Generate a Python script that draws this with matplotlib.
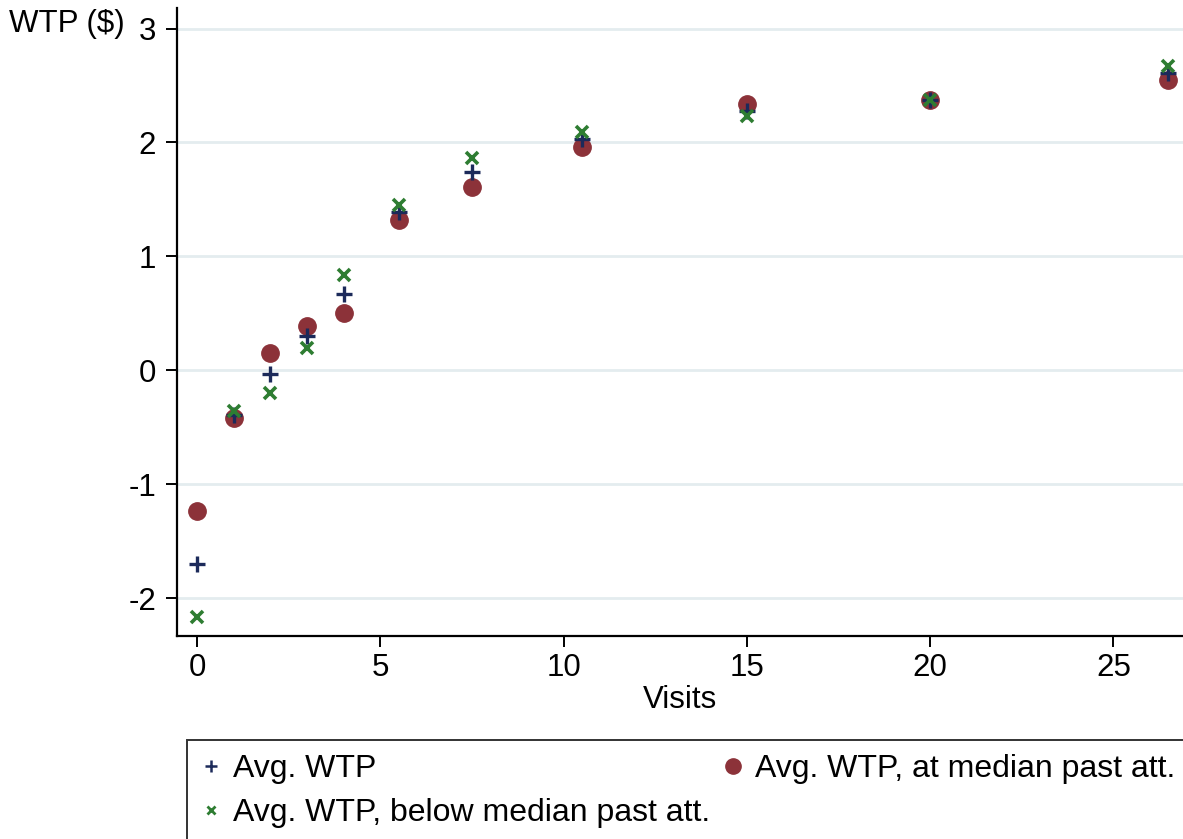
import matplotlib
matplotlib.use("Agg")
import matplotlib.pyplot as plt

plt.rcParams['font.family'] = ['Liberation Sans', 'DejaVu Sans']

# visits bins
visits = [0, 1, 2, 3, 4, 5.5, 7.5, 10.5, 15, 20, 26.5]

# average willingness to pay by group
wtp_all = [-1.70, -0.39, -0.03, 0.30, 0.67, 1.39, 1.74, 2.03, 2.28, 2.37, 2.61]
wtp_median = [-1.23, -0.42, 0.15, 0.39, 0.50, 1.32, 1.61, 1.96, 2.34, 2.37, 2.55]
wtp_below = [-2.16, -0.36, -0.20, 0.20, 0.84, 1.45, 1.86, 2.09, 2.23, 2.37, 2.67]

labels = ['Avg. WTP', 'Avg. WTP, below median past att.', 'Avg. WTP, at median past att.']

navy = '#1c2a5a'
maroon = '#8c3239'
green = '#2e7d32'
fs = 22.5

fig = plt.figure(figsize=(11.83, 8.39), dpi=100)
ax = fig.add_axes([177/1183, 1 - 636/839, 1 - 177/1183, (636 - 8)/839])

ax.grid(True, axis='y', color='#e4ecef', lw=2, zorder=0)
ax.set_axisbelow(True)

h_med, = ax.plot(visits, wtp_median, 'o', color=maroon, ms=12.5, ls='none', zorder=3)
h_all, = ax.plot(visits, wtp_all, '+', color=navy, ms=11, mew=2.4, ls='none', zorder=4)
h_below, = ax.plot(visits, wtp_below, 'x', color=green, ms=8, mew=2.6, ls='none', zorder=5)

ax.set_xlim(-0.55, 26.9)
ax.set_ylim(-2.33, 3.18)
ax.set_xticks([0, 5, 10, 15, 20, 25])
ax.set_yticks([-2, -1, 0, 1, 2, 3])
ax.set_yticklabels(['-2', '-1', '0', '1', '2', '3'])
ax.tick_params(labelsize=fs, length=8, width=1.4, color='black')
ax.tick_params(axis='y', pad=7)
ax.tick_params(axis='x', pad=4)
for s in ['top', 'right']:
    ax.spines[s].set_visible(False)
for s in ['left', 'bottom']:
    ax.spines[s].set_linewidth(1.6)

ax.set_xlabel('Visits', fontsize=fs, labelpad=2)
fig.text(9/1183, 1 - 24/839, 'WTP ($)', fontsize=fs, va='center', ha='left')

leg = fig.legend([h_all, h_below, h_med], labels, ncol=2, loc='upper left',
                 bbox_to_anchor=(187/1183, 1 - 740/839),
                 fontsize=23, frameon=True,
                 fancybox=False, edgecolor='black', borderaxespad=0,
                 handlelength=0.6, handletextpad=0.4, labelspacing=0.42,
                 columnspacing=0.4, borderpad=0.45)
leg.get_frame().set_linewidth(1.4)
hs = leg.legend_handles
hs[0].set_markersize(8)
hs[0].set_markeredgewidth(1.8)
hs[1].set_markersize(6)
hs[1].set_markeredgewidth(2)
hs[2].set_markersize(11)

fig.savefig('out.png', dpi=100)
